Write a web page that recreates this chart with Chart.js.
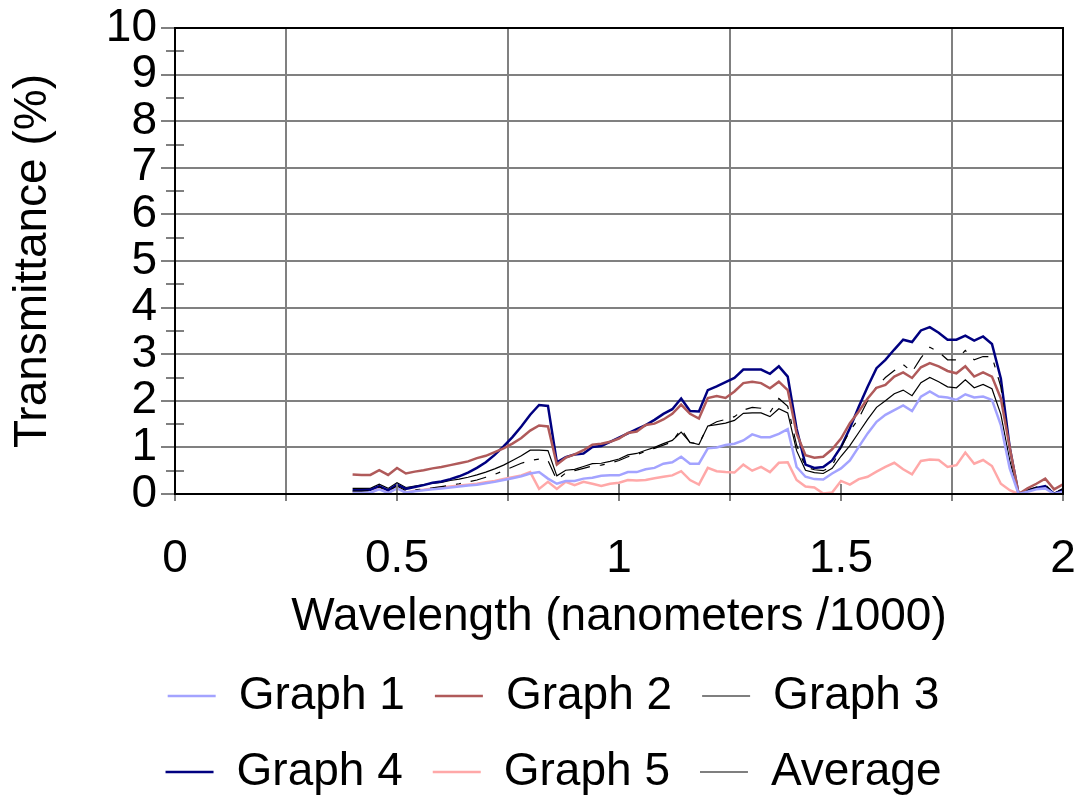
<!DOCTYPE html>
<html>
<head>
<meta charset="utf-8">
<script src="https://cdn.jsdelivr.net/npm/chart.js@4.4.0/dist/chart.umd.min.js"></script>
<style>
    body { margin: 0; background: #ffffff; }
    #wrap { width: 1077px; height: 798px; }
</style>
</head>
<body>
<div id="wrap"><canvas id="chart"></canvas></div>
<script>
// Wavelength in nanometers / 1000
var wavelengths = [
    0.40, 0.42, 0.44, 0.46, 0.48, 0.50, 0.52, 0.54, 0.56, 0.58,
    0.60, 0.62, 0.64, 0.66, 0.68, 0.70, 0.72, 0.74, 0.76, 0.78,
    0.80, 0.82, 0.84, 0.86, 0.88, 0.90, 0.92, 0.94, 0.96, 0.98,
    1.00, 1.02, 1.04, 1.06, 1.08, 1.10, 1.12, 1.14, 1.16, 1.18,
    1.20, 1.22, 1.24, 1.26, 1.28, 1.30, 1.32, 1.34, 1.36, 1.38,
    1.40, 1.42, 1.44, 1.46, 1.48, 1.50, 1.52, 1.54, 1.56, 1.58,
    1.60, 1.62, 1.64, 1.66, 1.68, 1.70, 1.72, 1.74, 1.76, 1.78,
    1.80, 1.82, 1.84, 1.86, 1.88, 1.90, 1.92, 1.94, 1.96, 1.98,
    2.00
];

// Transmittance (%)
var graph1 = [
    0.02, 0.02, 0.03, 0.10, 0.02, 0.12, 0.03, 0.06, 0.08, 0.10,
    0.12, 0.14, 0.16, 0.18, 0.20, 0.23, 0.26, 0.30, 0.34, 0.38,
    0.44, 0.47, 0.33, 0.22, 0.28, 0.28, 0.33, 0.35, 0.39, 0.40,
    0.40, 0.47, 0.47, 0.53, 0.56, 0.65, 0.68, 0.80, 0.65, 0.65,
    0.98, 1.00, 1.05, 1.08, 1.15, 1.28, 1.22, 1.22, 1.29, 1.39,
    0.58, 0.37, 0.32, 0.31, 0.44, 0.55, 0.72, 1.01, 1.30, 1.55,
    1.70, 1.80, 1.90, 1.78, 2.09, 2.20, 2.09, 2.07, 2.02, 2.14,
    2.07, 2.09, 2.02, 1.48, 0.55, 0.00, 0.05, 0.10, 0.12, 0.00,
    0.05
];
var graph2 = [
    0.42, 0.41, 0.41, 0.51, 0.41, 0.56, 0.44, 0.48, 0.51, 0.55,
    0.58, 0.62, 0.66, 0.70, 0.77, 0.82, 0.90, 0.98, 1.08, 1.20,
    1.36, 1.47, 1.45, 0.63, 0.78, 0.85, 0.94, 1.06, 1.08, 1.12,
    1.19, 1.31, 1.34, 1.48, 1.51, 1.60, 1.72, 1.92, 1.72, 1.62,
    2.06, 2.10, 2.06, 2.20, 2.38, 2.41, 2.38, 2.27, 2.41, 2.23,
    1.30, 0.83, 0.78, 0.80, 0.96, 1.19, 1.52, 1.77, 2.05, 2.28,
    2.34, 2.52, 2.61, 2.49, 2.72, 2.81, 2.74, 2.64, 2.59, 2.74,
    2.52, 2.61, 2.52, 2.05, 1.00, 0.00, 0.12, 0.22, 0.33, 0.10,
    0.21
];
var graph3 = [
    0.06, 0.06, 0.07, 0.15, 0.06, 0.17, 0.07, 0.09, 0.11, 0.13,
    0.16, 0.19, 0.22, 0.26, 0.30, 0.36, 0.42, 0.50, 0.58, 0.66,
    0.72, 0.75, 0.72, 0.30, 0.45, 0.50, 0.55, 0.60, 0.62, 0.66,
    0.72, 0.80, 0.84, 0.92, 0.98, 1.05, 1.12, 1.40, 1.10, 1.08,
    1.45, 1.55, 1.60, 1.66, 1.80, 1.86, 1.84, 1.75, 2.05, 1.88,
    1.05, 0.58, 0.52, 0.50, 0.60, 1.00, 1.35, 1.62, 2.00, 2.30,
    2.50, 2.65, 2.78, 2.62, 2.92, 3.15, 3.05, 2.88, 2.88, 3.08,
    2.88, 2.95, 2.95, 2.30, 0.95, 0.00, 0.08, 0.15, 0.20, 0.02,
    0.12
];
var graph4 = [
    0.08, 0.08, 0.09, 0.17, 0.08, 0.20, 0.11, 0.15, 0.19, 0.24,
    0.27, 0.32, 0.38, 0.46, 0.56, 0.68, 0.84, 1.02, 1.22, 1.45,
    1.70, 1.91, 1.89, 0.68, 0.79, 0.85, 0.87, 1.01, 1.03, 1.12,
    1.21, 1.30, 1.39, 1.48, 1.59, 1.72, 1.82, 2.05, 1.78, 1.77,
    2.23, 2.31, 2.40, 2.49, 2.67, 2.67, 2.67, 2.58, 2.74, 2.52,
    1.40, 0.63, 0.56, 0.58, 0.72, 1.01, 1.41, 1.87, 2.30, 2.70,
    2.88, 3.10, 3.31, 3.26, 3.51, 3.58, 3.46, 3.31, 3.31, 3.40,
    3.29, 3.38, 3.22, 2.48, 1.00, 0.00, 0.08, 0.13, 0.17, 0.00,
    0.10
];
var graph5 = [
    0.02, 0.01, 0.02, 0.12, 0.02, 0.13, 0.03, 0.07, 0.09, 0.12,
    0.14, 0.16, 0.18, 0.20, 0.22, 0.25, 0.28, 0.32, 0.36, 0.40,
    0.47, 0.11, 0.26, 0.11, 0.26, 0.19, 0.26, 0.22, 0.17, 0.22,
    0.24, 0.30, 0.29, 0.30, 0.34, 0.37, 0.40, 0.49, 0.30, 0.20,
    0.56, 0.49, 0.47, 0.46, 0.63, 0.50, 0.58, 0.47, 0.67, 0.68,
    0.30, 0.16, 0.14, 0.01, 0.03, 0.28, 0.20, 0.32, 0.37, 0.48,
    0.58, 0.67, 0.53, 0.42, 0.71, 0.74, 0.73, 0.58, 0.62, 0.89,
    0.65, 0.73, 0.60, 0.22, 0.08, 0.00, 0.00, 0.00, 0.00, 0.00,
    0.00
];
var average = [
    0.12, 0.12, 0.12, 0.21, 0.12, 0.24, 0.14, 0.17, 0.20, 0.23,
    0.25, 0.29, 0.32, 0.36, 0.41, 0.47, 0.54, 0.62, 0.72, 0.82,
    0.94, 0.94, 0.93, 0.39, 0.51, 0.53, 0.59, 0.65, 0.66, 0.70,
    0.75, 0.84, 0.87, 0.94, 1.00, 1.08, 1.15, 1.33, 1.11, 1.06,
    1.46, 1.49, 1.52, 1.58, 1.73, 1.74, 1.74, 1.66, 1.83, 1.74,
    0.93, 0.51, 0.46, 0.44, 0.55, 0.81, 1.04, 1.32, 1.60, 1.86,
    2.00, 2.15, 2.23, 2.11, 2.39, 2.50, 2.41, 2.30, 2.28, 2.45,
    2.28, 2.35, 2.26, 1.71, 0.72, 0.00, 0.07, 0.12, 0.16, 0.02,
    0.10
];

var FONT = "'Liberation Sans', Arial, sans-serif";
var GRID = "#808080";

function toPoints(values) {
    return values.map(function (v, i) {
        return { x: wavelengths[i], y: v };
    });
}

function isHalfStep(v) {
    return Math.abs(v * 2 - Math.round(v * 2)) < 1e-6;
}

// nudge the legend a little right and down so the rows sit as in the original
var legendNudge = {
    id: "legendNudge",
    afterLayout: function (chart) {
        var lg = chart.legend;
        if (!lg) return;
        lg.left += 15;
        lg.right += 15;
        lg.top += 7;
        lg.bottom += 7;
    }
};

// black frame round the plot plus the short ticks that cross the axes
var framePlugin = {
    id: "frame",
    afterDatasetsDraw: function (chart) {
        var ctx = chart.ctx;
        var a = chart.chartArea;
        var xs = chart.scales.x;
        var ys = chart.scales.y;
        ctx.save();
        ctx.strokeStyle = GRID;
        ctx.lineWidth = 2;
        ctx.beginPath();
        for (var v = 0.5; v < 10; v += 1) {
            var py = Math.round(ys.getPixelForValue(v));
            ctx.moveTo(a.left - 9, py);
            ctx.lineTo(a.left + 9, py);
        }
        for (var w = 0; w <= 2; w += 0.5) {
            var px = Math.round(xs.getPixelForValue(w));
            ctx.moveTo(px, a.bottom - 10);
            ctx.lineTo(px, a.bottom + 7);
        }
        ctx.stroke();
        ctx.strokeStyle = "#000000";
        ctx.lineWidth = 2;
        ctx.strokeRect(a.left, a.top, a.right - a.left, a.bottom - a.top);
        ctx.restore();
    }
};

var ctx = document.getElementById("chart").getContext("2d");
new Chart(ctx, {
    type: "line",
    data: {
        datasets: [
            { label: "Graph 1", data: toPoints(graph1), borderColor: "#a3a3ff", borderWidth: 2.5 },
            { label: "Graph 2", data: toPoints(graph2), borderColor: "#b05a5a", borderWidth: 2.5 },
            { label: "Graph 3", data: toPoints(graph3), borderColor: "#000000", borderWidth: 1.2, borderDash: [16, 10, 5, 10] },
            { label: "Graph 4", data: toPoints(graph4), borderColor: "#000080", borderWidth: 2.5 },
            { label: "Graph 5", data: toPoints(graph5), borderColor: "#ffa8a8", borderWidth: 2.5 },
            { label: "Average", data: toPoints(average), borderColor: "#000000", borderWidth: 1.2 }
        ]
    },
    options: {
        responsive: true,
        maintainAspectRatio: false,
        animation: false,
        layout: { padding: 0 },
        elements: {
            point: { radius: 0 },
            line: { tension: 0, fill: false }
        },
        plugins: {
            tooltip: { enabled: false },
            legend: {
                position: "bottom",
                labels: {
                    usePointStyle: true,
                    pointStyle: "line",
                    pointStyleWidth: 48,
                    padding: 30,
                    color: "#000000",
                    font: { family: FONT, size: 46 }
                }
            }
        },
        scales: {
            x: {
                type: "linear",
                min: 0,
                max: 2,
                afterFit: function (scale) {
                    scale.height = 142;
                    scale.paddingLeft = 0;
                    scale.paddingRight = 14;
                },
                ticks: {
                    stepSize: 0.25,
                    autoSkip: false,
                    maxRotation: 0,
                    padding: 31,
                    color: "#000000",
                    font: { family: FONT, size: 46 },
                    callback: function (value) {
                        return isHalfStep(value) ? String(value) : "";
                    }
                },
                grid: {
                    lineWidth: 2,
                    tickLength: 7,
                    color: function (c) {
                        return (c.tick && isHalfStep(c.tick.value)) ? "rgba(0,0,0,0)" : GRID;
                    },
                    tickColor: GRID
                },
                border: { color: "#000000", width: 2 },
                title: {
                    display: true,
                    text: "Wavelength (nanometers /1000)",
                    color: "#000000",
                    font: { family: FONT, size: 46, lineHeight: 1.0 },
                    padding: { top: 0, bottom: -4 }
                }
            },
            y: {
                min: 0,
                max: 10,
                afterFit: function (scale) {
                    scale.width = 175;
                    scale.paddingTop = 28;
                    scale.paddingBottom = 0;
                },
                ticks: {
                    stepSize: 0.5,
                    autoSkip: false,
                    padding: 4,
                    color: "#000000",
                    font: { family: FONT, size: 46 },
                    callback: function (value) {
                        return Number.isInteger(value) ? String(value) : "";
                    }
                },
                grid: {
                    lineWidth: 2,
                    tickLength: 14,
                    color: function (c) {
                        return (c.tick && Number.isInteger(c.tick.value)) ? GRID : "rgba(0,0,0,0)";
                    },
                    tickColor: function (c) {
                        return (c.tick && Number.isInteger(c.tick.value)) ? GRID : "rgba(0,0,0,0)";
                    }
                },
                border: { color: "#000000", width: 2 },
                title: {
                    display: true,
                    text: "Transmittance (%)",
                    color: "#000000",
                    font: { family: FONT, size: 46, lineHeight: 1.0 },
                    padding: { top: 10, bottom: 0 }
                }
            }
        }
    },
    plugins: [framePlugin, legendNudge]
});
</script>
</body>
</html>
